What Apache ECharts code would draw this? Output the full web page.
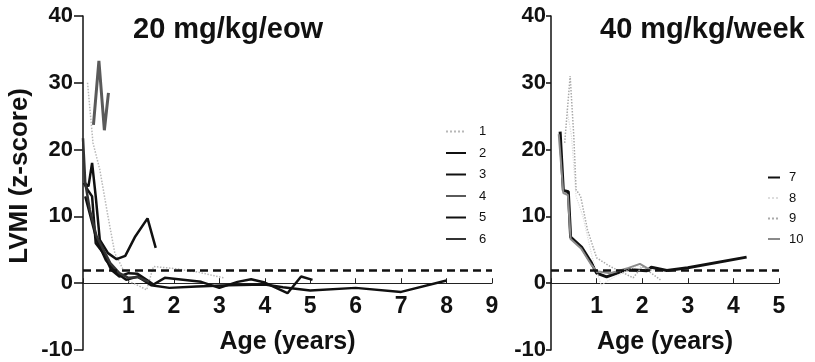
<!DOCTYPE html>
<html>
<head>
<meta charset="utf-8">
<script src="https://cdn.jsdelivr.net/npm/echarts@6/dist/echarts.min.js"></script>
<style>
  html, body { margin: 0; padding: 0; background: #fff; }
  #chart { width: 815px; height: 362px; }
</style>
</head>
<body>
<div id="chart"></div>
<script>
// Panel headings and axis titles
const panelTitles = ['20 mg/kg/eow', '40 mg/kg/week'];
const yTitle = 'LVMI (z-score)';
const xTitle = 'Age (years)';

// Upper limit of normal (z-score)
const normalLimit = 2;

// 20 mg/kg every other week: [age (years), LVMI z-score]
const s1 = [[0.1,30],[0.22,21],[0.37,17],[0.55,10],[0.7,4.5],[0.85,2.5],[1.0,0.3],[1.2,-0.3],[1.4,-1],[1.55,2.5],[2.0,2.2],[2.5,1.7],[3.1,0.8]];
const s2 = [[0.03,15],[0.12,14.5],[0.2,18],[0.28,13],[0.37,6.5],[0.55,4.5],[0.74,3.6],[0.93,4.1],[1.15,7],[1.42,9.7],[1.6,5.3]];
const s3 = [[0.02,15],[0.1,14],[0.2,13],[0.28,6],[0.45,4.5],[0.62,2],[0.8,1],[1.0,1.5],[1.2,1.4],[1.4,0.5],[1.55,-0.2],[1.8,0.8],[2.2,0.5],[2.6,0.2],[3.0,-0.7],[3.4,0.2],[3.7,0.6],[4.0,0.1],[4.5,-1.5],[4.8,1],[5.05,0.5]];
const s4 = [[0.23,23.7],[0.35,33.3],[0.47,22.9],[0.56,28.5]];
const s5 = [[0.05,13],[0.3,6.5],[0.5,3.5],[0.75,1.5],[0.95,0.5],[1.2,1],[1.5,-0.3],[1.9,-0.7],[2.5,-0.5],[3.2,-0.3],[4.0,-0.2],[4.4,-0.6],[5.0,-1.1],[6.0,-0.7],[7.0,-1.3],[8.0,0.4]];
const s6 = [[0.0,21.7],[0.05,15],[0.15,11],[0.3,7],[0.45,5],[0.6,3],[0.8,1.5],[1.0,0.8],[1.2,0.9],[1.45,0.2]];

// 40 mg/kg weekly
const s7 = [[0.2,22.7],[0.27,13.9],[0.38,13.7],[0.43,6.9],[0.67,5.4],[0.89,3],[1.0,1.5],[1.22,0.95],[1.66,2.05],[2.1,1.85],[2.2,2.4],[2.54,1.9],[3.0,2.3],[4.29,3.9]];
const s8 = [[0.35,26],[0.45,22],[0.55,13],[0.7,10],[0.9,4],[1.1,-0.3],[1.4,1],[1.9,2.6],[2.3,1.8]];
const s9 = [[0.3,21],[0.42,31],[0.5,22],[0.55,14],[0.65,13],[0.8,8],[1.0,3.8],[1.3,2.5],[1.6,1.5],[1.8,0.8],[2.0,2.5],[2.2,1.5],[2.4,0.5]];
const s10 = [[0.17,22.3],[0.27,13.5],[0.37,13.2],[0.43,6.6],[0.66,5.2],[0.88,2.8],[1.0,1.8],[1.3,1.5],[1.7,2.3],[1.95,2.9],[2.2,1.9]];

const FONT = '"Liberation Sans", Arial, Helvetica, sans-serif';

// Plot area geometry shared by both panels
const GRID_TOP = 16, GRID_BOTTOM = 12, CHART_H = 362;
const Y_MIN = -10, Y_MAX = 40;
// Lift the x axis from the bottom edge up to z = 0
const zeroLift = (CHART_H - GRID_TOP - GRID_BOTTOM) * (0 - Y_MIN) / (Y_MAX - Y_MIN);

function yAxisFor(gridIndex, labelGap, tickLen) {
  return {
    type: 'value', gridIndex, min: Y_MIN, max: Y_MAX, interval: 10,
    splitLine: { show: false },
    axisLine: { show: true, lineStyle: { color: '#111', width: 1.5 } },
    axisTick: { show: true, inside: false, length: tickLen, lineStyle: { color: '#111', width: 1.5 } },
    axisLabel: { color: '#111', fontFamily: FONT, fontWeight: 'bold', fontSize: 22, margin: labelGap }
  };
}

function xAxisFor(gridIndex, max) {
  return {
    type: 'value', gridIndex, min: 0, max, interval: 1,
    position: 'bottom', offset: -zeroLift,
    splitLine: { show: false },
    axisLine: { show: true, onZero: false, lineStyle: { color: '#222', width: 1 } },
    axisTick: { show: true, inside: true, length: 5, lineStyle: { color: '#222', width: 1 } },
    axisLabel: {
      color: '#111', fontFamily: FONT, fontWeight: 'bold', fontSize: 23, margin: 12,
      formatter: v => (v === 0 ? '' : String(v))
    },
    name: xTitle, nameLocation: 'middle', nameGap: 46,
    nameTextStyle: { color: '#111', fontFamily: FONT, fontWeight: 'bold', fontSize: 25 }
  };
}

function line(name, data, idx, color, width, type) {
  return {
    name, type: 'line', data, xAxisIndex: idx, yAxisIndex: idx,
    symbol: 'none', showSymbol: false, smooth: false, z: 3,
    lineStyle: { color, width, type },
    itemStyle: { color }
  };
}

function limitLine(idx) {
  return {
    type: 'line', data: [], xAxisIndex: idx, yAxisIndex: idx, silent: true,
    markLine: {
      symbol: 'none', silent: true, label: { show: false },
      lineStyle: { color: '#111', width: 2.5, type: [8, 5] },
      data: [{ yAxis: normalLimit }]
    }
  };
}

const chart = echarts.init(document.getElementById('chart'), null, { renderer: 'canvas' });

const legendCommon = {
  orient: 'vertical', itemHeight: 14,
  itemStyle: { opacity: 0 },
  textStyle: { color: '#111', fontFamily: FONT, fontSize: 13 }
};

chart.setOption({
  backgroundColor: '#fff',
  animation: false,
  grid: [
    { left: 83, right: 323, top: GRID_TOP, bottom: GRID_BOTTOM, containLabel: false, outerBoundsMode: 'none' },
    { left: 551, right: 36, top: GRID_TOP, bottom: GRID_BOTTOM, containLabel: false, outerBoundsMode: 'none' }
  ],
  xAxis: [xAxisFor(0, 9), xAxisFor(1, 5)],
  yAxis: [yAxisFor(0, 10, 9), yAxisFor(1, 5, 5)],
  legend: [
    Object.assign({}, legendCommon, {
      data: ['1', '2', '3', '4', '5', '6'], left: 440, top: 120,
      itemWidth: 20, itemGap: 8.5,
      textStyle: Object.assign({}, legendCommon.textStyle, { padding: [0, 0, 0, 8] })
    }),
    Object.assign({}, legendCommon, {
      data: ['7', '8', '9', '10'], left: 762, top: 166,
      itemWidth: 12, itemGap: 7.5,
      textStyle: Object.assign({}, legendCommon.textStyle, { padding: [0, 0, 0, 4] })
    })
  ],
  graphic: [
    { type: 'text', left: 133, top: 15, style: { text: panelTitles[0], fill: '#111', font: 'bold 29px ' + FONT } },
    { type: 'text', left: 600, top: 15, style: { text: panelTitles[1], fill: '#111', font: 'bold 29px ' + FONT } },
    { type: 'text', left: 7, top: 88, rotation: Math.PI / 2,
      style: { text: yTitle, fill: '#111', font: 'bold 26px ' + FONT } }
  ],
  series: [
    line('1', s1, 0, '#b8b8b8', 1.5, 'dotted'),
    line('2', s2, 0, '#111', 2.5, 'solid'),
    line('3', s3, 0, '#111', 2.5, 'solid'),
    line('4', s4, 0, '#5a5a5a', 3, 'solid'),
    line('5', s5, 0, '#111', 2.5, 'solid'),
    line('6', s6, 0, '#333', 2.5, 'solid'),
    limitLine(0),
    line('7', s7, 1, '#111', 3, 'solid'),
    line('8', s8, 1, '#dddddd', 1.2, 'dotted'),
    line('9', s9, 1, '#aaaaaa', 1.5, 'dotted'),
    line('10', s10, 1, '#8a8a8a', 2, 'solid'),
    limitLine(1)
  ]
});
</script>
</body>
</html>
